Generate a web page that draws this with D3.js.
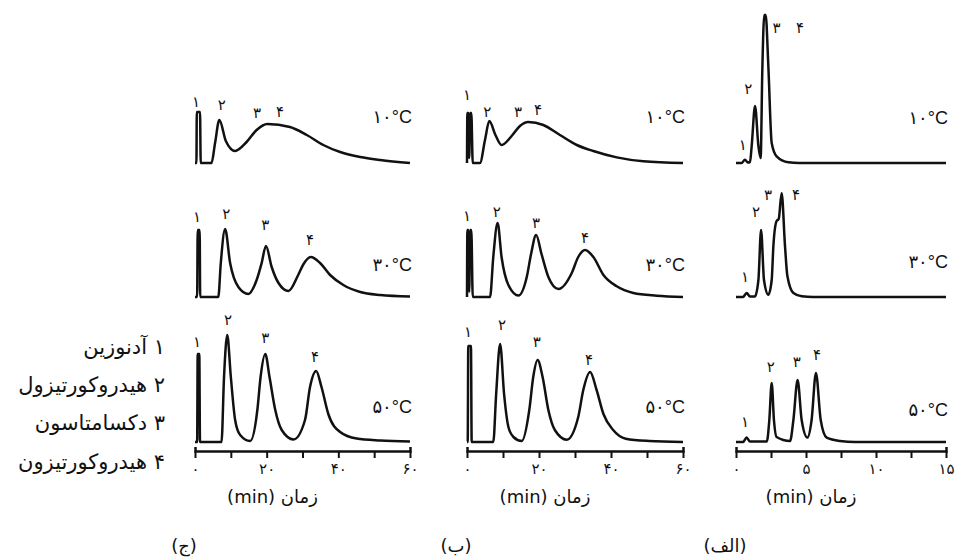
<html>
<head>
<meta charset="utf-8">
<script src="https://d3js.org/d3.v7.min.js"></script>
<style>
    body { margin: 0; background: #fff; }
    text { fill: #111; }
</style>
</head>
<body>
<svg id="chart" width="960" height="558"></svg>
<script>
    // ---- data: [time (min), signal] ----
    var temps = ["۱۰°C", "۳۰°C", "۵۰°C"];
    var compounds = ["آدنوزین", "هیدروکورتیزول", "دکسامتاسون", "هیدروکورتیزون"];
    var panelNames = ["(ج)", "(ب)", "(الف)"];

    // panel (ج)
    var jTicks = [0, 10, 20, 30, 40, 50, 60];
    var j10 = [[0, 0], [0.4, 0], [0.5, 51], [1.4, 51], [1.6, 0], [4.6, 0], [5.6, 20], [6.8, 43], [8.6, 22], [11.2, 12],
        [14.4, 21], [17.2, 33], [20.2, 39], [26.5, 36], [31.2, 28], [35.8, 18], [40.5, 11], [46.1, 6], [51.7, 3], [60, 0]];
    var j30 = [[0, 0], [0.6, 0], [0.75, 67], [1.3, 67], [1.45, 0], [6.5, 0], [7.2, 34], [8.4, 68], [9.8, 34], [12.1, 10],
        [14.9, 3], [17.2, 17], [18.6, 34], [19.8, 51], [21.4, 30], [23.3, 14], [26.1, 6], [28.8, 22], [30.3, 33],
        [32.3, 40], [34.9, 34], [37.7, 22], [41.4, 12], [46.1, 5], [51.7, 2], [60, 0.5]];
    var j50 = [[0, 0], [0.6, 0], [0.75, 88], [1.2, 88], [1.4, 0], [7.4, 0], [8.1, 65], [9.0, 107], [10, 65], [11.2, 22],
        [12.6, 7], [15.4, 1], [17.4, 32], [18.3, 65], [19.6, 88], [20.8, 65], [22.4, 32], [24.2, 12], [27.5, 2.5],
        [30.7, 22], [32.1, 55], [33.8, 71], [35.3, 55], [37.2, 28], [40.5, 10], [45.1, 3.5], [51.7, 1.5], [60, 0.5]];
    var jPeaks10 = [[0.3, 61], [7.5, 58], [17.3, 50], [23.7, 51]];
    var jPeaks30 = [[0.6, 80], [8.7, 83], [19.6, 72], [32.1, 57]];
    var jPeaks50 = [[0.6, 100], [9.2, 122], [19.6, 104], [33.5, 85]];

    // panel (ب)
    var bTicks = [0, 10, 20, 30, 40, 50, 60];
    var b10 = [[0, 0], [0.1, 50], [0.4, 50], [0.6, 5], [0.9, 50], [1.2, 50], [1.6, 0], [3.6, 0], [5.0, 23], [6.2, 42],
        [7.9, 28], [9.6, 18], [12.4, 27], [14.7, 37], [17, 41], [21.2, 38], [25.8, 28], [30.5, 18], [35.1, 12],
        [41.6, 5.6], [49, 1.7], [60, 0]];
    var b30 = [[0, 0], [0.1, 67], [0.4, 67], [0.6, 5], [0.9, 67], [1.2, 67], [1.6, 0], [6.4, 0], [7.3, 40], [8.5, 74],
        [9.6, 40], [11.5, 12], [14.3, 1.5], [16.6, 20], [17.8, 43], [19.2, 62], [20.7, 43], [22.6, 20], [25.4, 8],
        [29.1, 24], [30.9, 40], [32.8, 47], [35.1, 40], [37.9, 22], [41.6, 10.7], [46.2, 4], [52.7, 1.3], [60, 0]];
    var b50 = [[0, 0], [0.2, 0], [0.35, 96], [1.1, 96], [1.3, 0], [7.3, 0], [8.1, 48], [9.2, 98], [10.3, 48], [11.5, 15],
        [12.9, 5], [15.2, 1], [17.3, 32], [18.4, 65], [19.6, 82], [21, 65], [22.6, 32], [24.4, 12], [27.7, 2.3],
        [30.9, 25], [32.3, 52], [34.2, 70], [36, 52], [37.9, 28], [40.6, 12], [44.1, 3.3], [50.6, 1], [60, 0]];
    var bPeaks10 = [[0, 68], [5.6, 51], [14.2, 51], [19.7, 53]];
    var bPeaks30 = [[0, 81], [8.3, 85], [19.2, 74], [32.8, 59]];
    var bPeaks50 = [[0.3, 110], [9.7, 117], [19.4, 100], [33.9, 82]];

    // panel (الف)
    var aTicks = [0, 2.5, 5, 7.5, 10, 12.5, 15];
    var a10 = [[0, 0], [0.4, 0], [0.64, 3.3], [0.85, 0.5], [1.0, 1], [1.12, 17], [1.36, 57], [1.6, 17], [1.76, 5],
        [1.88, 93], [2.02, 148], [2.12, 148], [2.31, 97], [2.55, 20], [2.9, 6.7], [3.74, 0.7], [4.5, 0], [15, 0]];
    var a30 = [[0, 0], [0.5, 0], [0.76, 4], [1.0, 0.5], [1.35, 0.5], [1.6, 17], [1.79, 67], [2.0, 17], [2.31, 2.3],
        [2.55, 17], [2.67, 51], [2.9, 76], [3.05, 78], [3.26, 104], [3.5, 51], [3.67, 21], [4.1, 4], [4.7, 0.7],
        [5.5, 0], [15, 0]];
    var a50 = [[0, 0], [0.5, 0], [0.76, 4.4], [1.0, 0.5], [2.2, 0.5], [2.38, 22], [2.55, 59], [2.71, 22], [2.9, 5],
        [3.86, 1], [4.1, 22], [4.4, 62], [4.69, 22], [5.1, 4.4], [5.4, 22], [5.71, 69], [6.05, 22], [6.48, 4.4],
        [7.43, 1], [8.5, 0], [15, 0]];
    var aPeaks10 = [[0.48, 18], [0.88, 74], [2.9, 135], [4.57, 135]];
    var aPeaks30 = [[0.64, 20], [1.43, 85], [2.29, 102], [4.29, 102]];
    var aPeaks50 = [[0.64, 20], [2.48, 75], [4.34, 80], [5.79, 87]];

    var faDigits = "۰۱۲۳۴۵۶۷۸۹";
    function fa(n) {
        return String(n).replace(/[0-9]/g, function (c) { return faDigits[+c]; });
    }

    var svg = d3.select("#chart");
    var baselines = [163, 297, 442];
    var axisY = 451;
    var persianFont = "'DejaVu Sans', sans-serif";
    var labelFont = "'Liberation Sans', 'DejaVu Sans', sans-serif";

    var panels = [
        { x0: 195, x1: 410, max: 60, ticks: jTicks, every: 20, traces: [j10, j30, j50], peaks: [jPeaks10, jPeaks30, jPeaks50] },
        { x0: 467, x1: 683, max: 60, ticks: bTicks, every: 20, traces: [b10, b30, b50], peaks: [bPeaks10, bPeaks30, bPeaks50] },
        { x0: 736, x1: 946, max: 15, ticks: aTicks, every: 5, traces: [a10, a30, a50], peaks: [aPeaks10, aPeaks30, aPeaks50] }
    ];
    var tempY = [[46, 32, 35], [46, 32, 35], [45, 35, 32]];

    panels.forEach(function (p, pi) {
        var xs = d3.scaleLinear().domain([0, p.max]).range([p.x0, p.x1]);

        p.traces.forEach(function (trace, ri) {
            var base = baselines[ri];
            var ys = d3.scaleLinear().domain([0, 100]).range([base, base - 100]);
            var line = d3.line()
                .x(function (d) { return xs(d[0]); })
                .y(function (d) { return ys(d[1]); })
                .curve(d3.curveMonotoneX);
            svg.append("path")
                .attr("d", line(trace))
                .attr("fill", "none")
                .attr("stroke", "#111")
                .attr("stroke-width", 2.5)
                .attr("stroke-linejoin", "round");

            // peak numbers
            svg.selectAll(null)
                .data(p.peaks[ri])
                .enter().append("text")
                .attr("x", function (d) { return xs(d[0]); })
                .attr("y", function (d) { return ys(d[1]); })
                .attr("dy", "0.35em")
                .attr("text-anchor", "middle")
                .style("font-family", persianFont)
                .style("font-size", "15px")
                .text(function (d, i) { return fa(i + 1); });

            // temperature
            svg.append("text")
                .attr("x", p.x1 + 2)
                .attr("y", base - tempY[pi][ri])
                .attr("dy", "0.35em")
                .attr("text-anchor", "end")
                .style("font-family", labelFont)
                .style("font-size", "18px")
                .text(temps[ri]);
        });

        // time axis
        var axis = d3.axisBottom(xs)
            .tickValues(p.ticks)
            .tickSizeInner(7)
            .tickSizeOuter(-4)
            .tickPadding(5)
            .tickFormat(function (d) { return d % p.every === 0 ? fa(d) : ""; });
        var g = svg.append("g")
            .attr("transform", "translate(0," + axisY + ")")
            .call(axis);
        g.select(".domain").attr("stroke", "#111").attr("stroke-width", 2.5);
        g.selectAll(".tick line").attr("stroke", "#111").attr("stroke-width", 2);
        g.selectAll(".tick text")
            .style("font-family", persianFont)
            .style("font-size", "15px")
            .attr("fill", "#111");

        svg.append("text")
            .attr("x", (p.x0 + p.x1) / 2 - 30)
            .attr("y", 497)
            .attr("dy", "0.35em")
            .attr("text-anchor", "middle")
            .attr("direction", "rtl")
            .style("font-family", persianFont)
            .style("font-size", "18px")
            .text("زمان (min)");

        svg.append("text")
            .attr("x", p.x0 - 11)
            .attr("y", 546)
            .attr("dy", "0.35em")
            .attr("text-anchor", "middle")
            .attr("direction", "rtl")
            .style("font-family", persianFont)
            .style("font-size", "18px")
            .text(panelNames[pi]);
    });

    // compound legend
    var legendY = [347, 385, 423, 462];
    compounds.forEach(function (c, i) {
        svg.append("text")
            .attr("x", 165)
            .attr("y", legendY[i])
            .attr("dy", "0.35em")
            .attr("text-anchor", "start")
            .attr("direction", "rtl")
            .style("font-family", persianFont)
            .style("font-size", "21px")
            .text(fa(i + 1) + " " + c);
    });
</script>
</body>
</html>
